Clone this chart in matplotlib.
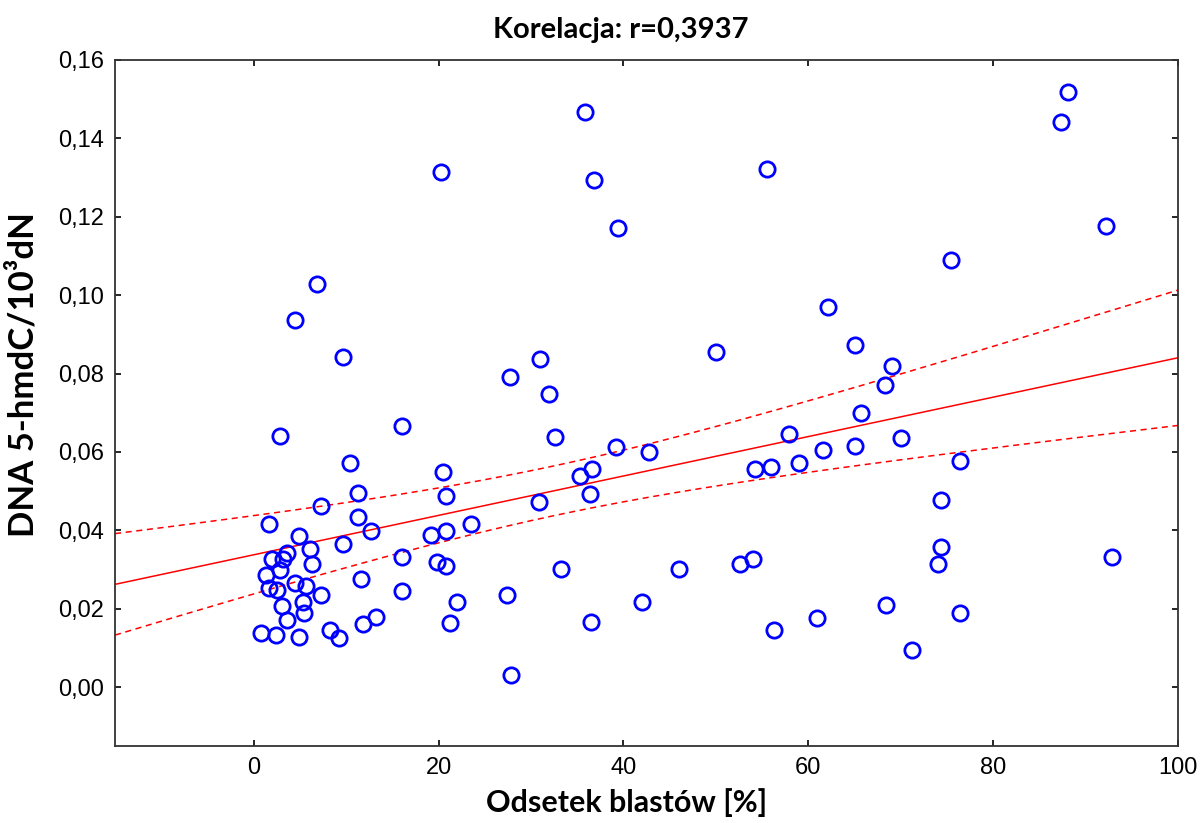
import numpy as np
import matplotlib
matplotlib.use("Agg")
import matplotlib.pyplot as plt

# odsetek blastów [%]
blasty = [
    1.65, 7.24, 11.28, 12.72, 4.90, 9.65, 19.21, 3.64, 6.05, 2.02,
    3.17, 2.84, 6.35, 16.00, 19.86, 1.30, 11.57, 4.46, 5.62, 1.65,
    2.56, 7.24, 16.00, 3.10, 5.33, 5.44, 3.57, 13.19, 11.82, 0.83,
    2.38, 4.90, 8.25, 9.26, 20.83, 23.54, 20.86, 22.02, 27.43, 21.22,
    6.81, 4.43, 9.65, 2.81, 16.08, 10.41, 11.30, 35.82, 20.22, 36.79,
    39.43, 31.03, 27.68, 32.00, 32.65, 39.21, 42.78, 20.51, 36.62, 35.28,
    20.83, 36.43, 30.84, 33.26, 46.05, 42.02, 36.54, 27.89, 55.49, 62.13,
    50.05, 65.01, 69.11, 68.32, 65.70, 57.95, 70.02, 61.65, 65.01, 54.27,
    56.00, 58.95, 74.35, 74.38, 74.09, 52.65, 53.98, 68.40, 60.94, 56.25,
    71.21, 88.08, 87.32, 92.18, 75.46, 76.43, 92.86, 76.46,
]

# DNA 5-hmdC / 10^3 dN
hmdc = [
    0.0417, 0.0461, 0.0434, 0.0399, 0.0385, 0.0366, 0.0387, 0.0343, 0.0353, 0.0326,
    0.0326, 0.0298, 0.0313, 0.0331, 0.0319, 0.0285, 0.0277, 0.0266, 0.0259, 0.0253,
    0.0247, 0.0236, 0.0245, 0.0207, 0.0217, 0.0188, 0.0171, 0.0178, 0.0162, 0.0139,
    0.0134, 0.0129, 0.0147, 0.0126, 0.0399, 0.0415, 0.0310, 0.0218, 0.0235, 0.0164,
    0.1028, 0.0937, 0.0842, 0.0640, 0.0667, 0.0572, 0.0496, 0.1467, 0.1314, 0.1294,
    0.1171, 0.0838, 0.0791, 0.0748, 0.0638, 0.0613, 0.0600, 0.0548, 0.0557, 0.0538,
    0.0487, 0.0494, 0.0472, 0.0302, 0.0302, 0.0218, 0.0167, 0.0032, 0.1321, 0.0969,
    0.0856, 0.0874, 0.0820, 0.0771, 0.0699, 0.0646, 0.0636, 0.0604, 0.0614, 0.0557,
    0.0561, 0.0572, 0.0478, 0.0357, 0.0315, 0.0315, 0.0328, 0.0210, 0.0176, 0.0146,
    0.0095, 0.1519, 0.1442, 0.1176, 0.1091, 0.0576, 0.0331, 0.0190,
]

r_tekst = "0,3937"

x = np.array(blasty)
y = np.array(hmdc)
n = len(x)

# prosta regresji + 95% przedział ufności dla średniej
b, a = np.polyfit(x, y, 1)
reszty = y - (a + b * x)
s = np.sqrt(np.sum(reszty ** 2) / (n - 2))
sxx = np.sum((x - x.mean()) ** 2)
t = 1.985

xs = np.linspace(-15, 100, 200)
ys = a + b * xs
pas = t * s * np.sqrt(1 / n + (xs - x.mean()) ** 2 / sxx)

plt.rcParams['font.family'] = ['Liberation Sans', 'DejaVu Sans']
napisy = ['Lato', 'DejaVu Sans']

fig = plt.figure(figsize=(12.03, 8.23), dpi=100)
ax = fig.add_axes([0.0956, 0.0936, 0.8836, 0.8335])

ax.plot(x, y, 'o', linestyle='none', markersize=11, markerfacecolor='none',
        markeredgecolor='#0000ff', markeredgewidth=2.0, zorder=3)
ax.plot(xs, ys, color='red', linewidth=1.1, zorder=2)
ax.plot(xs, ys + pas, color='red', linewidth=1.1, linestyle=(0, (4, 3)), zorder=2)
ax.plot(xs, ys - pas, color='red', linewidth=1.1, linestyle=(0, (4, 3)), zorder=2)

ax.set_xlim(-15, 100)
ax.set_ylim(-0.015, 0.16)
ax.set_xticks(np.arange(0, 101, 20))
ax.set_yticks(np.arange(0, 0.161, 0.02))
ax.set_yticklabels([f"{v:.2f}".replace('.', ',') for v in np.arange(0, 0.161, 0.02)])

ax.tick_params(direction='in', length=4, width=1.2, top=True, right=True,
               labelsize=17, pad=8)
for side in ['top', 'right', 'bottom', 'left']:
    ax.spines[side].set_linewidth(1.3)
    ax.spines[side].set_color('#333333')

ax.set_title(f"Korelacja: r={r_tekst}", fontsize=21, fontweight='bold',
             family=napisy, x=0.476, pad=16)
ax.set_xlabel("Odsetek blastów [%]", fontsize=22, fontweight='bold',
              family=napisy)
ax.xaxis.set_label_coords(0.481, -0.062)
ax.set_ylabel("DNA 5-hmdC/10³dN", fontsize=25, fontweight='bold',
              family=napisy)
ax.yaxis.set_label_coords(-0.071, 0.541)

fig.savefig("out.png", dpi=100)
